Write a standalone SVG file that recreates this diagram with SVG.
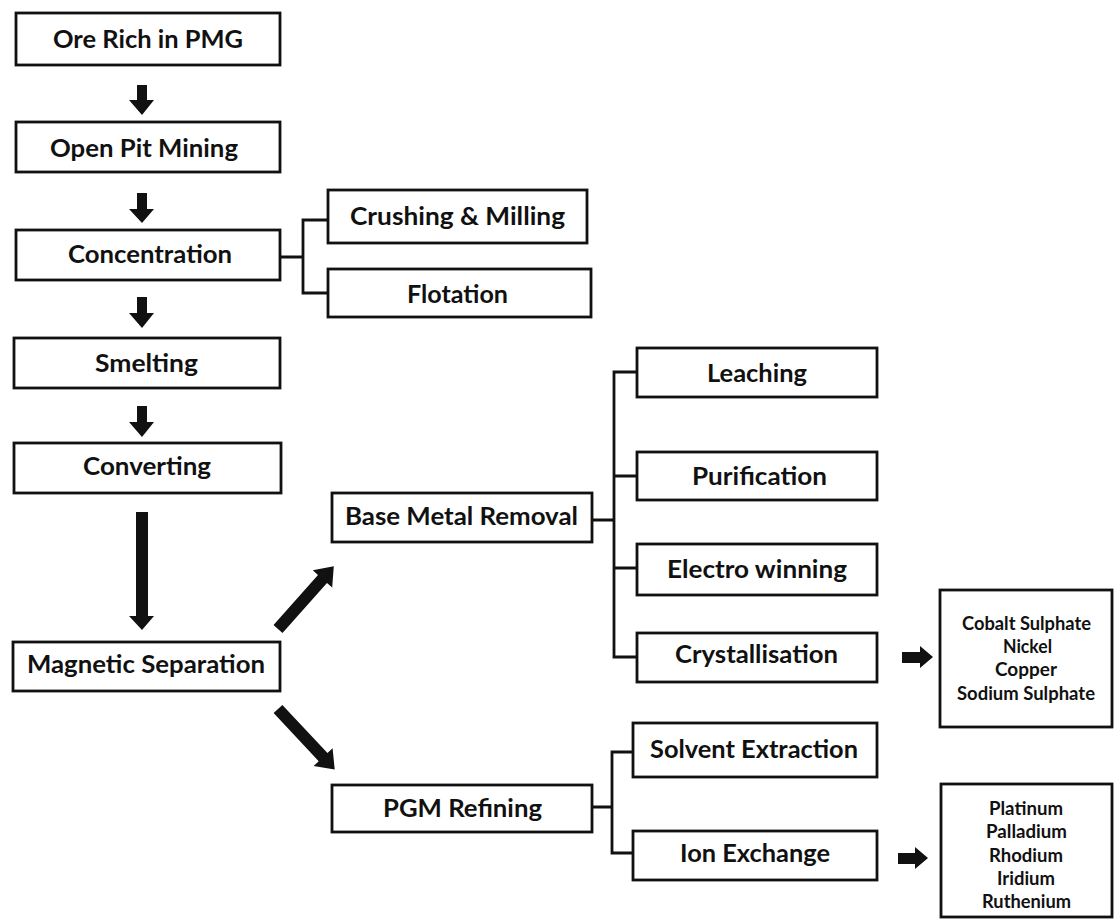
<svg xmlns="http://www.w3.org/2000/svg" width="1117" height="924" viewBox="0 0 1117 924">
<style>
.box{fill:#fff;stroke:#111;stroke-width:2.8}
.lbl{font-family:Lato,"Open Sans","Liberation Sans",sans-serif;font-weight:700;font-size:24px;fill:#111;text-anchor:middle}
.sm{font-size:18px}
.ln{fill:none;stroke:#111;stroke-width:2.8}
.arr{fill:#111}
</style>
<g id="ore"><rect class="box" x="16" y="13" width="264" height="52"/><text class="lbl" x="148" y="48" textLength="190" lengthAdjust="spacingAndGlyphs">Ore Rich in PMG</text></g>
<g id="openpit"><rect class="box" x="16" y="122" width="264" height="50"/><text class="lbl" x="144" y="157" textLength="188" lengthAdjust="spacingAndGlyphs">Open Pit Mining</text></g>
<g id="concentration"><rect class="box" x="16" y="230" width="264" height="50"/><text class="lbl" x="150" y="263" textLength="164" lengthAdjust="spacingAndGlyphs">Concentration</text></g>
<g id="crushing"><rect class="box" x="328" y="190" width="259" height="53"/><text class="lbl" x="457.5" y="225" textLength="215" lengthAdjust="spacingAndGlyphs">Crushing &amp; Milling</text></g>
<g id="flotation"><rect class="box" x="328" y="269" width="263" height="48"/><text class="lbl" x="457.5" y="303" textLength="101" lengthAdjust="spacingAndGlyphs">Flotation</text></g>
<g id="smelting"><rect class="box" x="14" y="338" width="266" height="50"/><text class="lbl" x="146.5" y="372" textLength="103" lengthAdjust="spacingAndGlyphs">Smelting</text></g>
<g id="converting"><rect class="box" x="14" y="443" width="267" height="50"/><text class="lbl" x="147" y="475" textLength="128" lengthAdjust="spacingAndGlyphs">Converting</text></g>
<g id="magnetic"><rect class="box" x="13" y="642" width="267" height="49"/><text class="lbl" x="146" y="673" textLength="238" lengthAdjust="spacingAndGlyphs">Magnetic Separation</text></g>
<g id="bmr"><rect class="box" x="332" y="493" width="260" height="49"/><text class="lbl" x="461.5" y="525" textLength="233" lengthAdjust="spacingAndGlyphs">Base Metal Removal</text></g>
<g id="leaching"><rect class="box" x="637" y="348" width="240" height="49"/><text class="lbl" x="757" y="382" textLength="100" lengthAdjust="spacingAndGlyphs">Leaching</text></g>
<g id="purification"><rect class="box" x="637" y="452" width="240" height="48"/><text class="lbl" x="759.5" y="485" textLength="135" lengthAdjust="spacingAndGlyphs">Purification</text></g>
<g id="electro"><rect class="box" x="637" y="544" width="240" height="51"/><text class="lbl" x="757" y="578" textLength="180" lengthAdjust="spacingAndGlyphs">Electro winning</text></g>
<g id="crystallisation"><rect class="box" x="637" y="633" width="240" height="49"/><text class="lbl" x="756.5" y="663" textLength="163" lengthAdjust="spacingAndGlyphs">Crystallisation</text></g>
<g id="basemetals"><rect class="box" x="940" y="590" width="172" height="137"/>
<text class="lbl sm" x="1026.5" y="630" textLength="129" lengthAdjust="spacingAndGlyphs">Cobalt Sulphate</text>
<text class="lbl sm" x="1027.5" y="653" textLength="49" lengthAdjust="spacingAndGlyphs">Nickel</text>
<text class="lbl sm" x="1026" y="676" textLength="62" lengthAdjust="spacingAndGlyphs">Copper</text>
<text class="lbl sm" x="1026" y="700" textLength="138" lengthAdjust="spacingAndGlyphs">Sodium Sulphate</text></g>
<g id="pgm"><rect class="box" x="332" y="785" width="260" height="47"/><text class="lbl" x="462.5" y="817" textLength="159" lengthAdjust="spacingAndGlyphs">PGM Refining</text></g>
<g id="solvent"><rect class="box" x="633" y="723" width="244" height="54"/><text class="lbl" x="754" y="758" textLength="208" lengthAdjust="spacingAndGlyphs">Solvent Extraction</text></g>
<g id="ion"><rect class="box" x="633" y="831" width="244" height="49"/><text class="lbl" x="755" y="862" textLength="150" lengthAdjust="spacingAndGlyphs">Ion Exchange</text></g>
<g id="pgmetals"><rect class="box" x="941" y="784" width="171" height="133"/>
<text class="lbl sm" x="1026" y="815" textLength="74" lengthAdjust="spacingAndGlyphs">Platinum</text>
<text class="lbl sm" x="1026.5" y="838" textLength="81" lengthAdjust="spacingAndGlyphs">Palladium</text>
<text class="lbl sm" x="1026" y="862" textLength="74" lengthAdjust="spacingAndGlyphs">Rhodium</text>
<text class="lbl sm" x="1026" y="885" textLength="58" lengthAdjust="spacingAndGlyphs">Iridium</text>
<text class="lbl sm" x="1026.5" y="908" textLength="89" lengthAdjust="spacingAndGlyphs">Ruthenium</text></g>
<g id="connectors">
<path class="arr" d="M137,85 H147 V100 H154 L142,115 L129,100 H137 Z"/>
<path class="arr" d="M137,193 H147 V209 H154 L142,223 L129,209 H137 Z"/>
<path class="arr" d="M137,297 H147 V313 H154 L142,328 L129,313 H137 Z"/>
<path class="arr" d="M137,406 H147 V422 H154 L142,437 L129,422 H137 Z"/>
<path class="arr" d="M136,512 H148 V616 H154 L142,630 L129,616 H136 Z"/>
<path class="arr" transform="translate(278,629) rotate(-48.4)" d="M0,-6 H67 V-13 L84,0 L67,13 V6 H0 Z"/>
<path class="arr" transform="translate(278,709) rotate(46.9)" d="M0,-6 H66 V-13 L83,0 L66,13 V6 H0 Z"/>
<path class="arr" d="M902,652 H920 V646 L933,657 L920,668 V663 H902 Z"/>
<path class="arr" d="M898,853 H915 V847 L928,858 L915,869 V864 H898 Z"/>
<path class="ln" d="M280,257 H303 M328,220 H303 V293 H328"/>
<path class="ln" d="M592,520 H614 M637,372 H614 V657 H637 M614,476 H637 M614,568 H637"/>
<path class="ln" d="M592,807 H612 M633,752 H612 V853 H633"/>
</g>
</svg>
